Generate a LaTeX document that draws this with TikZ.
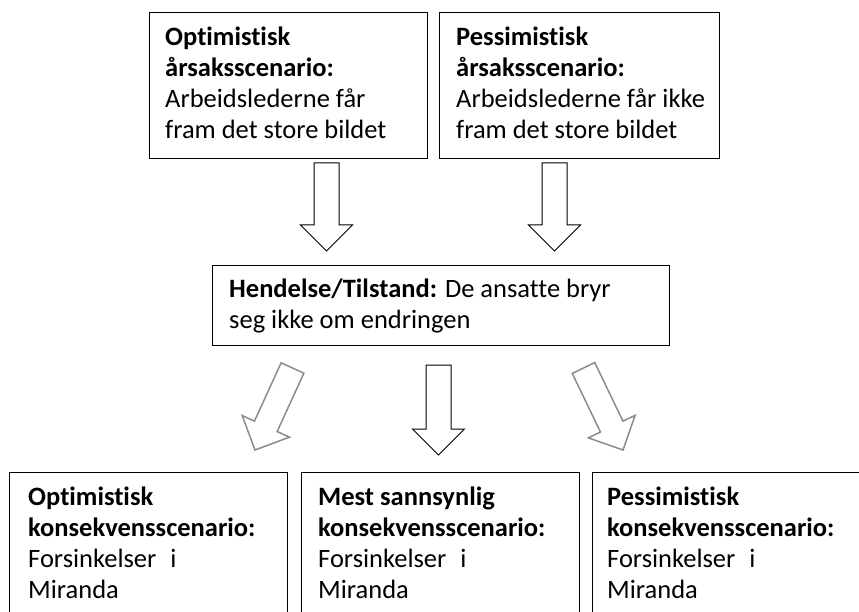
\documentclass[tikz,border=0pt]{standalone}
\usepackage{fontspec}
\setmainfont{Carlito}[Ligatures=CommonOff]
\usetikzlibrary{calc}
\tikzset{
  box/.style={draw=black, line width=1.3pt, fill=white, anchor=north west, inner sep=0pt},
  txt/.style={anchor=north west, inner sep=0pt, align=left, font=\fontsize{26.5}{31.2}\selectfont},
  barrow/.style={draw=black, line width=1pt, fill=white, line join=miter},
  garrow/.style={draw=black!45, line width=1.5pt, fill=white, line join=miter},
}
\newcommand\blockarrow[4]{% #1 style, #2 tail, #3 tip, #4 head-base coordinate name
  \coordinate (#4) at ($(#3)!26pt!(#2)$);
  \draw[#1] ($(#2)!12.5pt!90:(#3)$) -- ($(#4)!12.5pt!90:(#3)$) -- ($(#4)!26pt!90:(#3)$)
    -- (#3) -- ($(#4)!26pt!-90:(#3)$) -- ($(#4)!12.5pt!-90:(#3)$) -- ($(#2)!12.5pt!-90:(#3)$) -- cycle;
}
\newcommand\firstline{\rule{0pt}{20pt}}
\begin{document}
\begin{tikzpicture}[x=1pt,y=-1pt]
\useasboundingbox (0,0) rectangle (859,612);
\fill[white] (0,0) rectangle (859,612);
\clip (0,0) rectangle (859,612);

% boxes
\node[box, minimum width=278pt, minimum height=146pt] (tl) at (149,12) {};
\node[box, minimum width=280pt, minimum height=146pt] (tr) at (439,12) {};
\node[box, minimum width=457pt, minimum height=80pt] (mid) at (212,265) {};
\node[box, minimum width=278pt, minimum height=160pt] (bl) at (9,472) {};
\node[box, minimum width=278pt, minimum height=160pt] (bm) at (301,472) {};
\node[box, minimum width=278pt, minimum height=160pt] (br) at (592,472) {};

% texts
\node[txt] (tlt) at ([shift={(16,13)}]tl.north west)
  {\firstline\textbf{Optimistisk}\\\textbf{årsaksscenario:}\\Arbeidslederne får\\fram det store bildet};
\node[txt] (trt) at ([shift={(17,13)}]tr.north west)
  {\firstline\textbf{Pessimistisk}\\\textbf{årsaksscenario:}\\Arbeidslederne får ikke\\fram det store bildet};
\node[txt] (midt) at ([shift={(17,12)}]mid.north west)
  {\firstline\textbf{Hendelse/Tilstand:} De ansatte bryr\\seg ikke om endringen};
\node[txt] (blt) at ([shift={(19,13)}]bl.north west)
  {\firstline\textbf{Optimistisk}\\\textbf{konsekvensscenario:}\\Forsinkelser\hspace*{14pt}i\\Miranda};
\node[txt] (bmt) at ([shift={(17,13)}]bm.north west)
  {\firstline\textbf{Mest sannsynlig}\\\textbf{konsekvensscenario:}\\Forsinkelser\hspace*{14pt}i\\Miranda};
\node[txt] (brt) at ([shift={(15,13)}]br.north west)
  {\firstline\textbf{Pessimistisk}\\\textbf{konsekvensscenario:}\\Forsinkelser\hspace*{14pt}i\\Miranda};

% arrow end points
\coordinate (a1s) at (326.5,163); \coordinate (a1e) at (326.5,251);
\coordinate (a2s) at (554.5,163); \coordinate (a2e) at (554.5,251);
\coordinate (a3s) at (292.5,368); \coordinate (a3e) at (255,450);
\coordinate (a4s) at (438.5,365); \coordinate (a4e) at (438.5,455);
\coordinate (a5s) at (583.5,368); \coordinate (a5e) at (623,450);

\blockarrow{barrow}{a1s}{a1e}{a1h}
\blockarrow{barrow}{a2s}{a2e}{a2h}
\blockarrow{garrow}{a3s}{a3e}{a3h}
\blockarrow{barrow}{a4s}{a4e}{a4h}
\blockarrow{garrow}{a5s}{a5e}{a5h}
\end{tikzpicture}
\end{document}
